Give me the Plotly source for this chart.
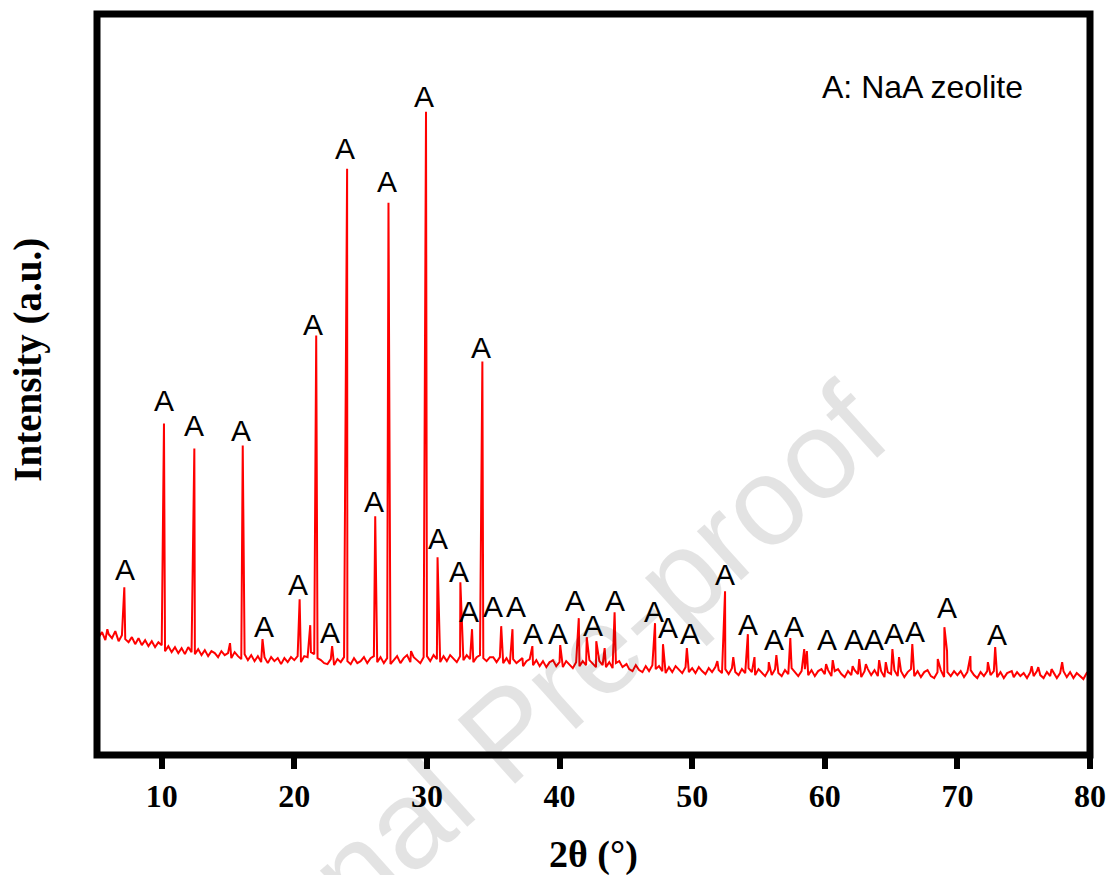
import plotly.graph_objects as go

# ---- data (intensity in arbitrary units) ----
baseline_start = 5.0
baseline_step = 0.25
baseline_int = [
    126,118,123,115,121,117,124,114,120,116,113,118,111,117,110,115,109,114,108,113,   # 5.00-9.75
    110,104,109,103,108,102,107,101,108,103,101,106,100,105,99,104,102,98,104,100,     # 10-14.75
    102,97,103,99,96,101,95,100,94,99,93,98,92,98,94,97,91,97,93,98,                   # 15-19.75
    95,99,93,99,98,103,101,97,95,92,91,96,90,96,93,98,94,91,97,92,                     # 20-24.75
    94,98,92,97,99,93,98,92,97,91,95,99,92,97,100,93,98,95,92,98,                      # 25-29.75
    99,94,100,96,93,99,94,100,96,93,99,95,100,96,93,98,100,97,94,98,                   # 30-34.75
    98,93,98,92,97,91,96,92,95,89,94,96,90,95,89,94,88,93,95,89,                       # 35-39.75
    93,88,94,90,87,93,89,94,90,95,91,88,94,90,88,93,87,92,94,88,                       # 40-44.75
    91,86,84,90,85,83,89,84,90,86,89,84,82,88,83,89,85,82,88,83,                       # 45-49.75
    87,82,88,84,81,87,83,88,85,82,86,81,87,83,80,86,82,87,83,80,                       # 50-54.75
    86,82,79,85,80,86,82,79,85,81,87,83,79,84,86,80,85,79,84,86,                       # 55-59.75
    81,85,79,84,86,81,78,84,80,85,81,78,84,86,80,85,79,84,78,83,                       # 60-64.75
    81,85,79,84,78,83,86,79,84,78,83,85,79,77,83,85,78,83,79,84,                       # 65-69.75
    80,84,78,83,85,80,77,83,79,84,80,84,78,83,77,82,84,78,83,79,                       # 70-74.75
    82,77,83,79,84,80,77,83,79,83,77,82,84,78,83,77,82,79,76,82,                       # 75-79.75
    79,                                                                                 # 80
]

peak_pos = [5.9, 7.18, 10.17, 12.46, 15.15, 16.11, 17.6, 20.4, 21.2, 21.65,
            22.85, 23.98, 26.1, 27.1, 28.8, 29.93, 30.8, 32.52, 33.4, 34.18,
            35.6, 36.45, 37.2, 37.95, 39.4, 40.05, 41.45, 42.05, 42.77, 43.4,
            44.15, 45.05, 47.2, 47.8, 49.6, 51.9, 52.48, 53.1, 54.2, 54.7,
            55.78, 56.35, 57.4, 58.45, 58.65, 60.1, 60.6, 62.1, 62.6, 63.1,
            64.1, 64.6, 65.1, 65.6, 66.6, 68.52, 69.02, 69.22, 70.98, 72.3,
            72.85, 74.1, 75.6, 76.1, 77.1, 77.9]
peak_int = [126, 168, 332, 307, 112, 310, 116, 156, 130, 420,
            109, 587, 239, 553, 104, 644, 198, 173, 126, 394,
            129, 126, 97, 109, 94, 110, 137, 118, 114, 107,
            143, 91, 132, 111, 107, 94, 164, 98, 121, 98,
            93, 100, 117, 106, 104, 91, 95, 89, 96, 91,
            95, 93, 106, 98, 111, 96, 128, 104, 99, 93,
            108, 84, 89, 88, 86, 93]

label_x = [7.2, 10.2, 12.4, 15.97, 17.7, 20.25, 21.4, 22.7, 23.8, 26.0,
           27.0, 29.8, 30.8, 32.4, 33.2, 34.05, 35.0, 36.7, 38.0, 39.9,
           41.2, 42.5, 44.2, 47.1, 48.2, 49.8, 52.5, 54.2, 56.2, 57.7,
           60.2, 62.2, 63.7, 65.2, 66.8, 69.2, 73.0]
label_y = [186, 355, 330, 325, 129, 171, 431, 123, 607, 254,
           574, 659, 217, 184, 144, 408, 149, 149, 122, 122,
           155, 130, 155, 144, 128, 122, 181, 131, 116, 129,
           116, 116, 116, 122, 124, 148, 121]

x_ticks = [10, 20, 30, 40, 50, 60, 70, 80]

# ---- assemble the pattern ----
baseline_x = [baseline_start + baseline_step * i for i in range(len(baseline_int))]
pts = sorted(zip(baseline_x + peak_pos, baseline_int + peak_int))
two_theta = [p[0] for p in pts]
intensity = [p[1] for p in pts]

fig = go.Figure()
fig.add_trace(go.Scatter(x=two_theta, y=intensity, mode="lines",
                         line=dict(color="#ff0000", width=2), showlegend=False,
                         hoverinfo="skip"))

annotations = []
# watermark (first, so it sits beneath the other texts)
annotations.append(dict(x=0.413, y=0.030, xref="paper", yref="paper", text="Journal Pre-proof",
                        showarrow=False, xanchor="center", yanchor="middle", textangle=-42,
                        font=dict(family="Arial, Liberation Sans, sans-serif", size=125,
                                  color="rgba(0,0,0,0.11)")))
for lx, ly in zip(label_x, label_y):
    annotations.append(dict(x=lx, y=ly, xref="x", yref="y", text="A", showarrow=False,
                            xanchor="center", yanchor="middle",
                            font=dict(family="Arial, Liberation Sans, sans-serif", size=30, color="black")))

annotations.append(dict(x=0.7279, y=0.901, xref="paper", yref="paper", text="A: NaA zeolite",
                        showarrow=False, xanchor="left", yanchor="middle",
                        font=dict(family="Arial, Liberation Sans, sans-serif", size=32, color="black")))
annotations.append(dict(x=0.5005, y=-0.134, xref="paper", yref="paper", text="2θ (°)",
                        showarrow=False, xanchor="center", yanchor="middle",
                        font=dict(family="Times New Roman, Liberation Serif, serif", size=38,
                                  color="black", weight="bold")))
annotations.append(dict(x=-0.0699, y=0.533, xref="paper", yref="paper", text="Intensity (a.u.)",
                        showarrow=False, xanchor="center", yanchor="middle", textangle=-90,
                        font=dict(family="Times New Roman, Liberation Serif, serif", size=39,
                                  color="black", weight="bold")))

fig.update_layout(
    width=1113, height=875,
    margin=dict(l=96.5, r=22.5, t=13.5, b=119.5, autoexpand=False),
    paper_bgcolor="white", plot_bgcolor="white",
    annotations=annotations,
    shapes=[dict(type="rect", xref="paper", yref="paper", x0=0, x1=1, y0=0, y1=1,
                 line=dict(color="black", width=7), layer="above")],
)
fig.update_xaxes(range=[5.12, 80], tickvals=x_ticks, ticktext=[str(t) for t in x_ticks],
                 ticks="outside", ticklen=13, tickwidth=6, tickcolor="black",
                 showgrid=False, zeroline=False, showline=False, ticklabelstandoff=0,
                 tickfont=dict(family="Times New Roman, Liberation Serif, serif", size=32,
                               color="black", weight="bold"))
fig.update_yaxes(range=[0, 742], showticklabels=False, ticks="", showgrid=False,
                 zeroline=False, showline=False)

fig.write_html("out.html", config={"displayModeBar": False},
               post_script="document.body.style.margin='0';")
